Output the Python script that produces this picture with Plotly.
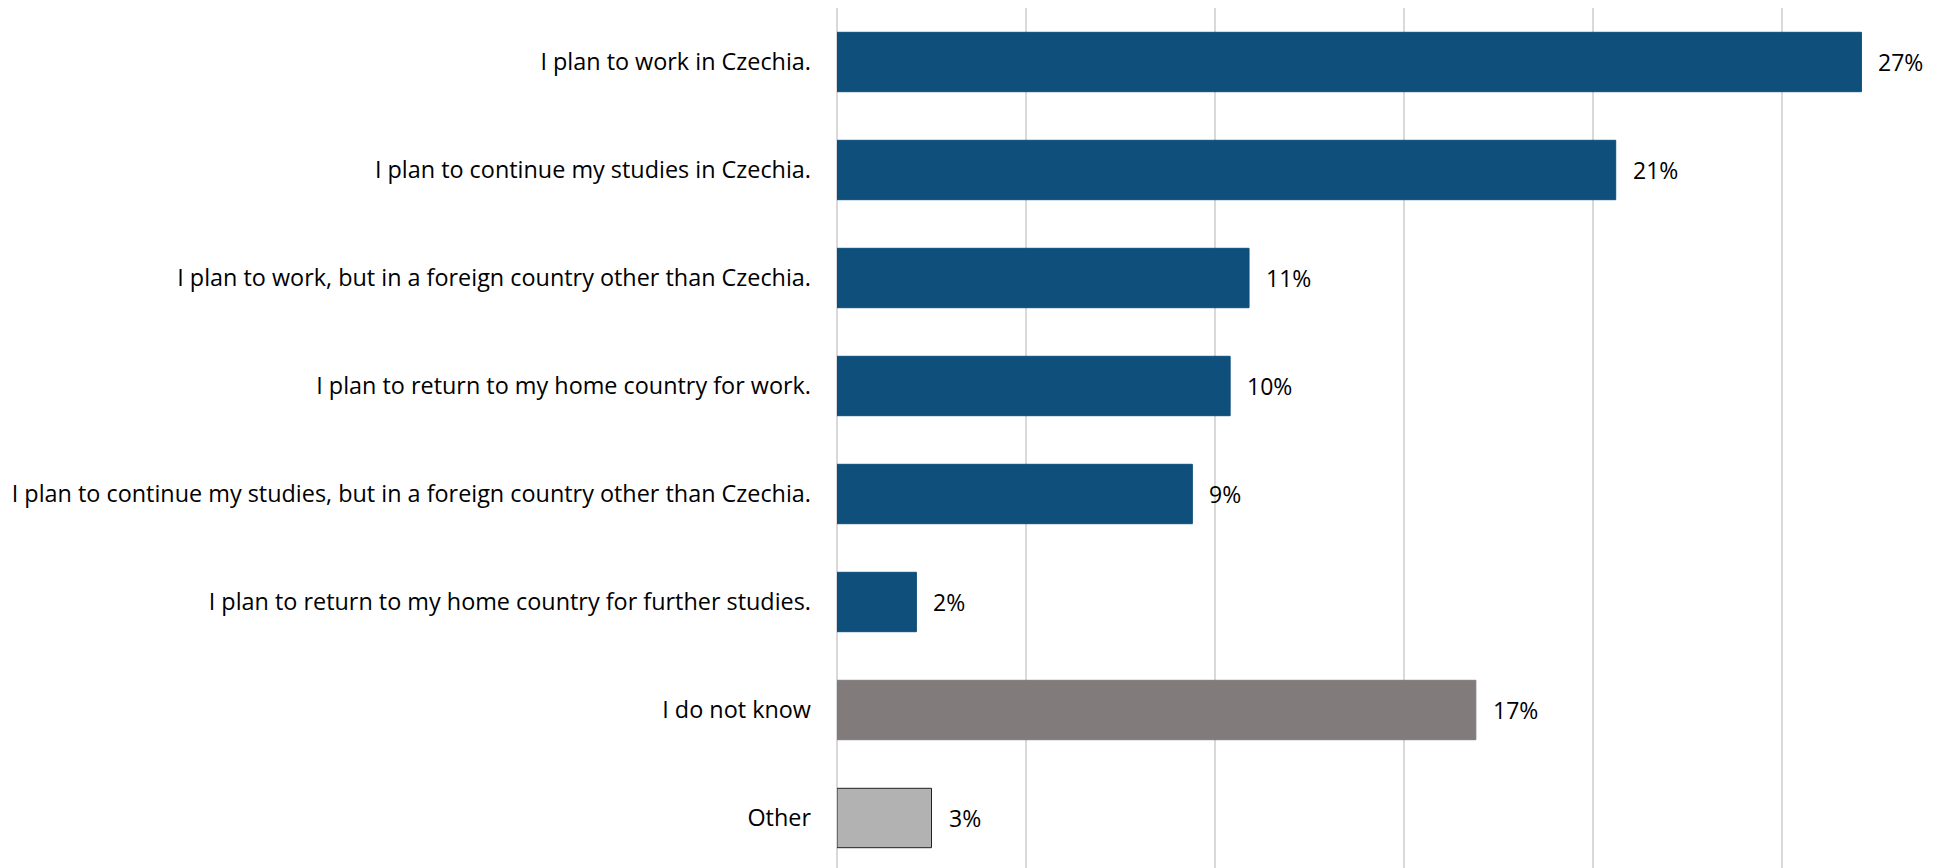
import plotly.graph_objects as go

categories = [
    "I plan to work in Czechia.",
    "I plan to continue my studies in Czechia.",
    "I plan to work, but in a foreign country other than Czechia.",
    "I plan to return to my home country for work.",
    "I plan to continue my studies, but in a foreign country other than Czechia.",
    "I plan to return to my home country for further studies.",
    "I do not know",
    "Other",
]
values = [27.1, 20.6, 10.9, 10.4, 9.4, 2.1, 16.9, 2.5]
labels = ["27%", "21%", "11%", "10%", "9%", "2%", "17%", "3%"]
colors = ["#0E4F7C"] * 6 + ["#817B7B", "#B2B2B2"]
line_colors = ["#0E4F7C"] * 6 + ["#817B7B", "#222222"]

FONT = "Open Sans"

fig = go.Figure()
fig.add_trace(go.Bar(
    x=values, y=categories, orientation="h",
    marker=dict(color=colors, line=dict(color=line_colors, width=1)),
    width=0.55, hoverinfo="skip",
))
for c, v, t in zip(categories, values, labels):
    fig.add_annotation(x=v, y=c, text=t, showarrow=False, xanchor="left",
                       xshift=15, font=dict(family=FONT, size=23, color="#000000"))

fig.update_layout(
    width=1957, height=864,
    margin=dict(l=829, r=0, t=0, b=0),
    plot_bgcolor="white", paper_bgcolor="white",
    showlegend=False,
    font=dict(family=FONT, size=23.4, color="#000000"),
)
fig.update_xaxes(range=[0, 29.84], dtick=5, showticklabels=False,
                 showgrid=True, gridcolor="#D9D9D9", gridwidth=2,
                 zeroline=True, zerolinecolor="#D9D9D9", zerolinewidth=2,
                 showline=False, automargin=False)
fig.update_yaxes(categoryorder="array", categoryarray=categories,
                 range=[7.5, -0.5], showgrid=False, zeroline=False,
                 ticks="", ticklabelstandoff=25, showline=False,
                 automargin=False)

fig.write_html("out.html")
